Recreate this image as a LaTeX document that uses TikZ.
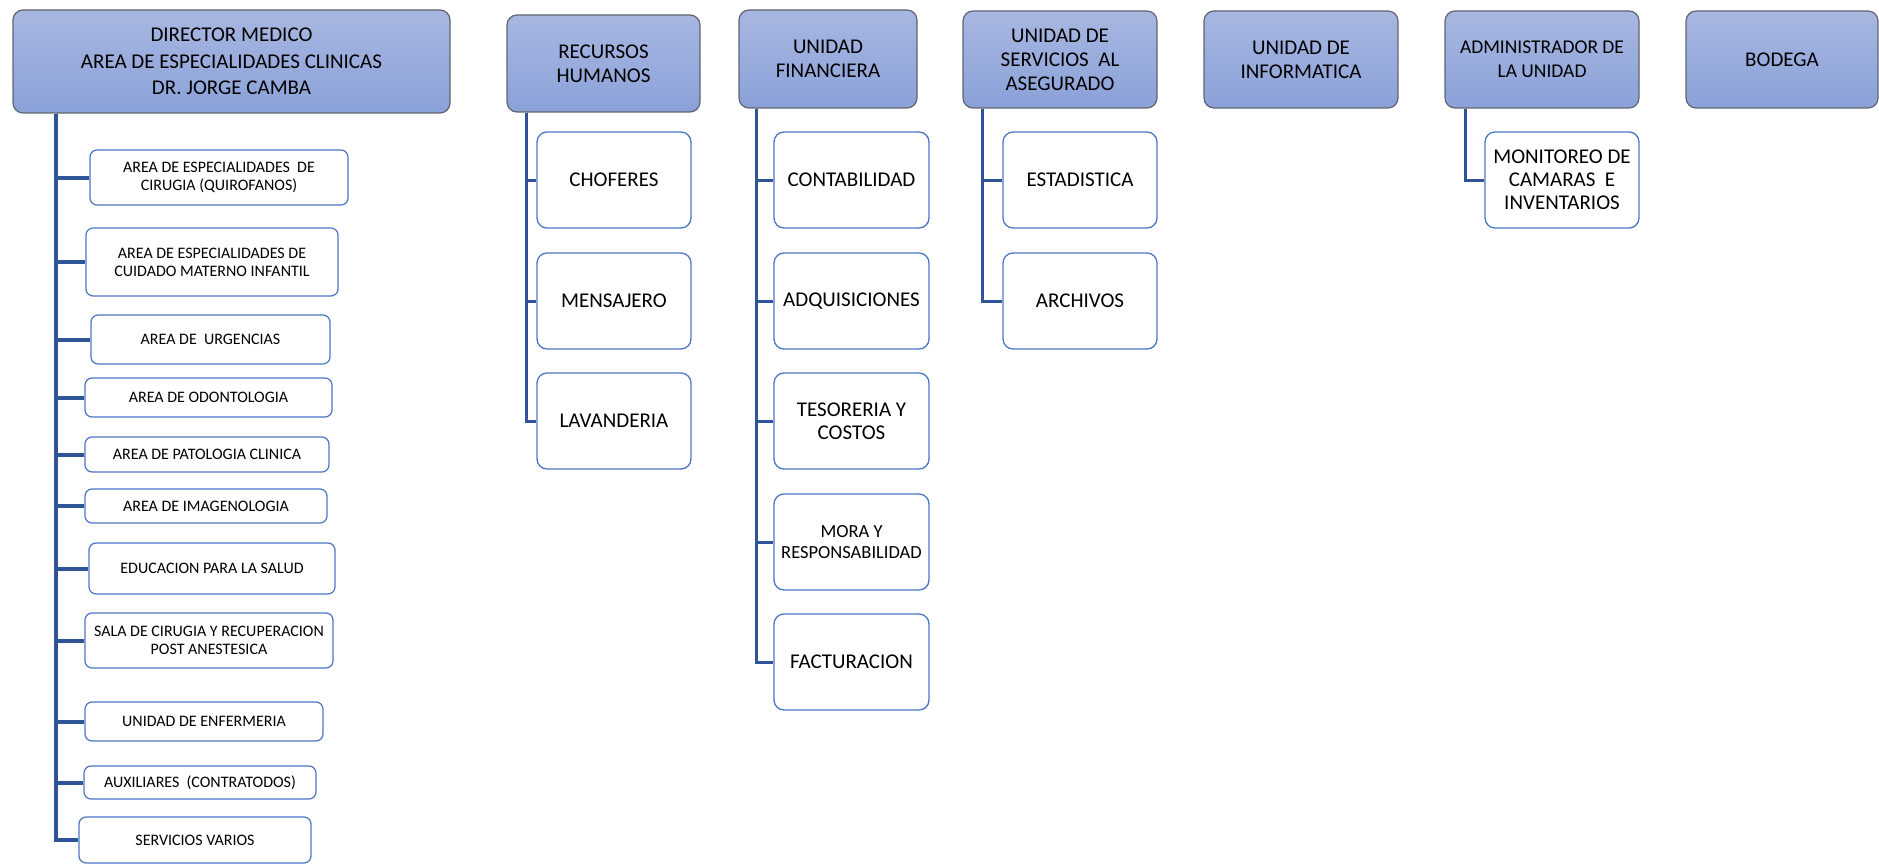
\documentclass[tikz,border=0pt]{standalone}
\usepackage{fontspec}
\setmainfont{Carlito}
\definecolor{topA}{HTML}{A8B7E1}
\definecolor{topB}{HTML}{8AA1D8}
\definecolor{boxgray}{HTML}{5F6470}
\definecolor{kidblue}{HTML}{4A76C6}
\definecolor{connblue}{HTML}{2F5597}
\tikzset{
  topbox/.style={draw=boxgray, line width=1.2pt, rounded corners=10pt, top color=topA, bottom color=topB, align=center, inner sep=0pt, font=\fontsize{21}{24}\selectfont},
  kidbox/.style={draw=kidblue, line width=1.3pt, fill=white, rounded corners=10pt, align=center, inner sep=0pt, minimum width=154pt, minimum height=96pt, font=\fontsize{21}{23}\selectfont},
  lkid/.style={draw=kidblue, line width=1.2pt, fill=white, rounded corners=7pt, align=center, inner sep=0pt, font=\fontsize{16}{18}\selectfont},
  conn/.style={draw=connblue, line width=3pt},
  lconn/.style={draw=connblue, line width=4pt}
}
\begin{document}
\begin{tikzpicture}[x=1pt,y=-1pt]
\useasboundingbox (0,0) rectangle (1879,864);
% top boxes
\node[topbox, minimum width=437pt, minimum height=103pt, font=\fontsize{21}{26.5}\selectfont] (dir) at (231.5,61.5) {DIRECTOR MEDICO\\AREA DE ESPECIALIDADES CLINICAS\\DR. JORGE CAMBA};
\node[topbox, minimum width=193pt, minimum height=97pt] (rh) at (603.5,63.5) {RECURSOS\\HUMANOS};
\node[topbox, minimum width=178pt, minimum height=98pt] (fin) at (828,59) {UNIDAD\\FINANCIERA};
\node[topbox, minimum width=194pt, minimum height=97pt] (serv) at (1060,59.5) {UNIDAD DE\\SERVICIOS\ \ AL\\ASEGURADO};
\node[topbox, minimum width=194pt, minimum height=97pt] (info) at (1301,59.5) {UNIDAD DE\\INFORMATICA};
\node[topbox, minimum width=194pt, minimum height=97pt, font=\fontsize{19.5}{24}\selectfont] (adm) at (1542,59.5) {ADMINISTRADOR DE\\LA UNIDAD};
\node[topbox, minimum width=192pt, minimum height=97pt] (bod) at (1782,59.5) {BODEGA};
% left children
\node[lkid, minimum width=258pt, minimum height=55pt] (l1) at (219,177.5) {AREA DE ESPECIALIDADES\ \ DE\\CIRUGIA (QUIROFANOS)};
\node[lkid, minimum width=252pt, minimum height=68pt] (l2) at (212,262) {AREA DE ESPECIALIDADES DE\\CUIDADO MATERNO INFANTIL};
\node[lkid, minimum width=239pt, minimum height=49pt] (l3) at (210.5,339.5) {AREA DE\ \ URGENCIAS};
\node[lkid, minimum width=247pt, minimum height=39pt] (l4) at (208.5,397.5) {AREA DE ODONTOLOGIA};
\node[lkid, minimum width=244pt, minimum height=35pt] (l5) at (207,454.5) {AREA DE PATOLOGIA CLINICA};
\node[lkid, minimum width=242pt, minimum height=34pt] (l6) at (206,506) {AREA DE IMAGENOLOGIA};
\node[lkid, minimum width=246pt, minimum height=51pt] (l7) at (212,568.5) {EDUCACION PARA LA SALUD};
\node[lkid, minimum width=248pt, minimum height=55pt] (l8) at (209,640.5) {SALA DE CIRUGIA Y RECUPERACION\\POST ANESTESICA};
\node[lkid, minimum width=238pt, minimum height=39pt] (l9) at (204,721.5) {UNIDAD DE ENFERMERIA};
\node[lkid, minimum width=232pt, minimum height=33pt] (l10) at (200,782.5) {AUXILIARES\ \ (CONTRATODOS)};
\node[lkid, minimum width=232pt, minimum height=46pt] (l11) at (195,840) {SERVICIOS VARIOS};
% RH children
\node[kidbox] (rh1) at (614,180) {CHOFERES};
\node[kidbox] (rh2) at (614,301) {MENSAJERO};
\node[kidbox] (rh3) at (614,421) {LAVANDERIA};
% Financiera children
\node[kidbox, minimum width=155pt] (f1) at (851.5,180) {CONTABILIDAD};
\node[kidbox, minimum width=155pt] (f2) at (851.5,301) {ADQUISICIONES};
\node[kidbox, minimum width=155pt] (f3) at (851.5,421) {TESORERIA Y\\COSTOS};
\node[kidbox, minimum width=155pt, font=\fontsize{18.5}{21}\selectfont] (f4) at (851.5,542) {MORA Y\\RESPONSABILIDAD};
\node[kidbox, minimum width=155pt] (f5) at (851.5,662) {FACTURACION};
% Servicios children
\node[kidbox] (s1) at (1080,180) {ESTADISTICA};
\node[kidbox] (s2) at (1080,301) {ARCHIVOS};
% Admin child
\node[kidbox] (a1) at (1562,180) {MONITOREO DE\\CAMARAS\ \ E\\INVENTARIOS};
% connectors
\foreach \k in {l1,l2,l3,l4,l5,l6,l7,l8,l9,l10,l11}
  \draw[lconn] ([xshift=44pt]dir.south west) |- (\k.west);
\foreach \k in {rh1,rh2,rh3}
  \draw[conn] ([xshift=20pt]rh.south west) |- (\k.west);
\foreach \k in {f1,f2,f3,f4,f5}
  \draw[conn] ([xshift=18pt]fin.south west) |- (\k.west);
\foreach \k in {s1,s2}
  \draw[conn] ([xshift=20pt]serv.south west) |- (\k.west);
\draw[conn] ([xshift=21pt]adm.south west) |- (a1.west);
\end{tikzpicture}
\end{document}
